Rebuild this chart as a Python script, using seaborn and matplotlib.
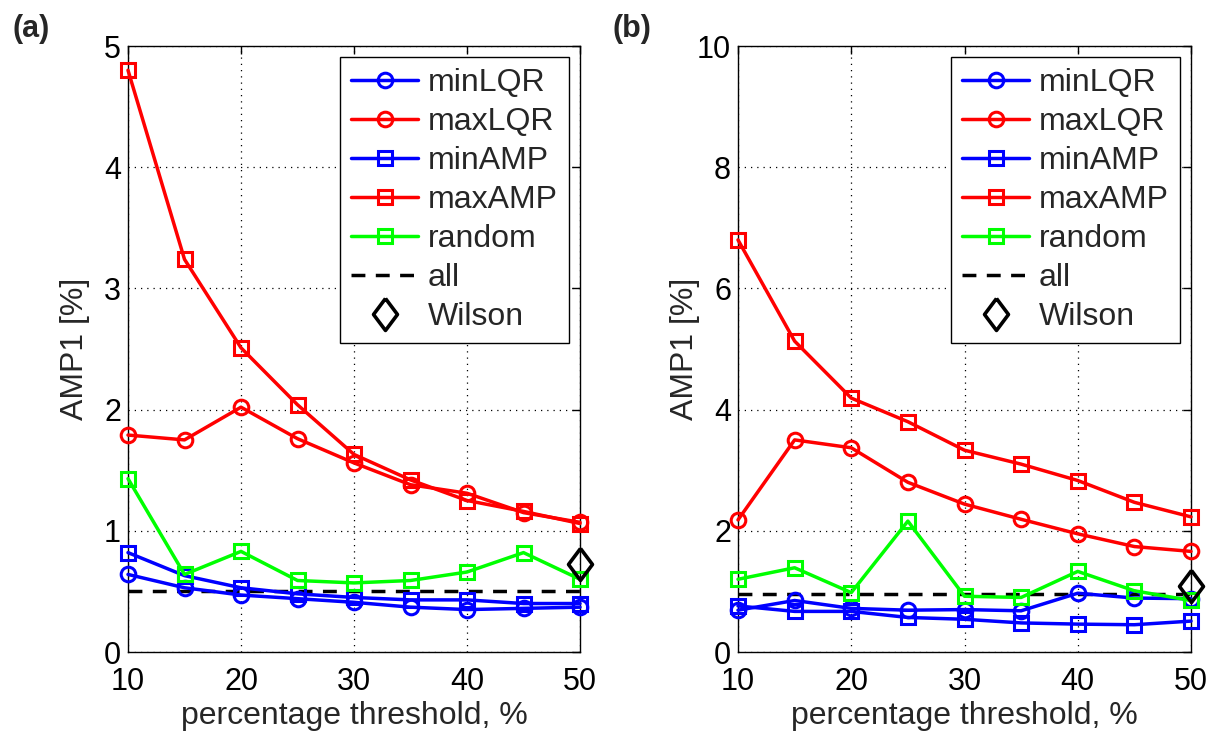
import numpy as np
import pandas as pd
import matplotlib
matplotlib.use("Agg")
import matplotlib.pyplot as plt
import seaborn as sns

thresholds = [10, 15, 20, 25, 30, 35, 40, 45, 50]

# Panel (a)
a_minLQR = [0.64, 0.53, 0.47, 0.44, 0.41, 0.37, 0.35, 0.36, 0.37]
a_maxLQR = [1.79, 1.75, 2.02, 1.76, 1.56, 1.38, 1.31, 1.15, 1.07]
a_minAMP = [0.82, 0.63, 0.53, 0.48, 0.45, 0.43, 0.43, 0.40, 0.40]
a_maxAMP = [4.80, 3.24, 2.51, 2.04, 1.63, 1.42, 1.25, 1.16, 1.06]
a_random = [1.43, 0.64, 0.83, 0.59, 0.57, 0.59, 0.66, 0.82, 0.60]
a_all = 0.50
a_wilson = 0.73

# Panel (b)
b_minLQR = [0.69, 0.85, 0.72, 0.69, 0.70, 0.68, 0.97, 0.89, 0.88]
b_maxLQR = [2.18, 3.50, 3.37, 2.80, 2.44, 2.19, 1.95, 1.74, 1.66]
b_minAMP = [0.76, 0.67, 0.67, 0.57, 0.54, 0.48, 0.46, 0.45, 0.51]
b_maxAMP = [6.80, 5.13, 4.19, 3.80, 3.33, 3.10, 2.83, 2.47, 2.23]
b_random = [1.20, 1.39, 0.98, 2.16, 0.92, 0.90, 1.33, 1.01, 0.85]
b_all = 0.95
b_wilson = 1.09

series_names = ["minLQR", "maxLQR", "minAMP", "maxAMP", "random"]
series_colors = ["#0000ff", "#ff0000", "#0000ff", "#ff0000", "#00ff00"]
series_markers = ["o", "o", "s", "s", "s"]

sns.set_style("white")
plt.rcParams["font.family"] = ["Liberation Sans", "DejaVu Sans"]
plt.rcParams["font.size"] = 22

W, H = 1212, 731
fig = plt.figure(figsize=(W / 100, H / 100), dpi=100)
ax_a = fig.add_axes([128 / W, 1 - 652 / H, 452 / W, 606 / H])
ax_b = fig.add_axes([738 / W, 1 - 652 / H, 453 / W, 606 / H])

diamond = [(0, 1), (0.75, 0), (0, -1), (-0.75, 0), (0, 1)]

panels = [
    (ax_a, [a_minLQR, a_maxLQR, a_minAMP, a_maxAMP, a_random], a_all, a_wilson, 5, [0, 1, 2, 3, 4, 5], "(a)", 12),
    (ax_b, [b_minLQR, b_maxLQR, b_minAMP, b_maxAMP, b_random], b_all, b_wilson, 10, [0, 2, 4, 6, 8, 10], "(b)", 613),
]

for ax, ys, allv, wil, ymax, yticks, tag, tagx in panels:
    for name, y, c, m in zip(series_names, ys, series_colors, series_markers):
        df = pd.DataFrame({"x": thresholds, "y": y})
        sns.lineplot(data=df, x="x", y="y", ax=ax, color=c, marker=m,
                     markersize=10.5, markerfacecolor="none", markeredgecolor=c,
                     markeredgewidth=2.2, linewidth=2.5, label=name, clip_on=False,
                     zorder=3)
    ax.plot([10, 50], [allv, allv], color="black", linestyle=(0, (4, 3)),
            linewidth=2.5, label="all", zorder=2)
    ax.plot([50], [wil], linestyle="none", marker=diamond, markersize=23,
            markerfacecolor="none", markeredgecolor="black", markeredgewidth=2.6,
            label="Wilson", clip_on=False, zorder=4)
    ax.set_xlim(10, 50)
    ax.set_ylim(0, ymax)
    ax.set_xticks([10, 20, 30, 40, 50])
    ax.set_yticks(yticks)
    ax.grid(True, color="black", linestyle=(0, (1, 4)), linewidth=0.9)
    ax.tick_params(direction="in", length=6, width=1, top=True, right=True,
                   labelsize=22, colors="black")
    ax.tick_params(axis="x", pad=11)
    ax.tick_params(axis="y", pad=5)
    for s in ax.spines.values():
        s.set_visible(True)
        s.set_color("black")
        s.set_linewidth(1.0)
    ax.set_xlabel("percentage threshold, %", fontsize=23, labelpad=3)
    ax.set_ylabel("AMP1 [%]", fontsize=23)
    ax.yaxis.set_label_coords(-0.084, 0.5)
    leg = ax.legend(loc="upper right", fontsize=23, frameon=True, fancybox=False,
                    edgecolor="black", handlelength=2.1, borderaxespad=0.35,
                    labelspacing=0.28, handletextpad=0.3, borderpad=0.35)
    leg.get_frame().set_linewidth(1.0)
    leg.get_frame().set_alpha(1)
    fig.text(tagx / W, 1 - 14 / H, tag, fontsize=22, fontweight="bold",
             va="top", ha="left")

fig.savefig("out.png", dpi=100, facecolor="white")
